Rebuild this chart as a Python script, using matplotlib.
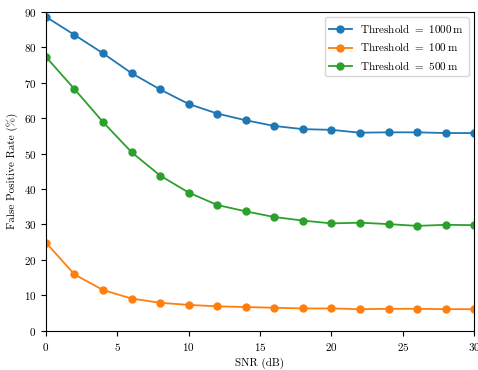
import numpy as np
import matplotlib
matplotlib.use('Agg')
import matplotlib.pyplot as plt

# Computer Modern look for all text
plt.rcParams['font.family'] = ['cmr10', 'DejaVu Serif']
plt.rcParams['mathtext.fontset'] = 'cm'
plt.rcParams['axes.formatter.use_mathtext'] = True
plt.rcParams['font.size'] = 8

snr = [0, 2, 4, 6, 8, 10, 12, 14, 16, 18, 20, 22, 24, 26, 28, 30]
fpr_1000 = [88.6, 83.5, 78.3, 72.7, 68.1, 64.0, 61.3, 59.4, 57.8, 56.9,
            56.7, 55.9, 56.0, 56.0, 55.8, 55.8]
fpr_100 = [24.9, 15.9, 11.5, 9.1, 7.9, 7.3, 6.9, 6.7, 6.5, 6.3,
           6.3, 6.1, 6.2, 6.2, 6.1, 6.1]
fpr_500 = [77.3, 68.2, 58.9, 50.4, 43.8, 39.0, 35.5, 33.7, 32.1, 31.1,
           30.3, 30.5, 30.1, 29.6, 29.9, 29.8]
labels = ['Threshold $=$ 1000$\\,$m', 'Threshold $=$ 100$\\,$m', 'Threshold $=$ 500$\\,$m']

dpi = 100
fig = plt.figure(figsize=(478/dpi, 370/dpi), dpi=dpi)
ax = fig.add_axes([0.096, 0.106, 0.896, 0.862])

for y, lab in zip([fpr_1000, fpr_100, fpr_500], labels):
    ax.plot(snr, y, marker='o', markersize=5, linewidth=1.3, label=lab)

ax.set_xlim(0, 30)
ax.set_ylim(0, 90)
ax.set_xticks([0, 5, 10, 15, 20, 25, 30])
ax.set_yticks(range(0, 91, 10))
ax.set_xlabel('SNR (dB)')
ax.set_ylabel('False Positive Rate (%)')
ax.legend(loc='upper right')

plt.savefig('out.png', dpi=dpi)
